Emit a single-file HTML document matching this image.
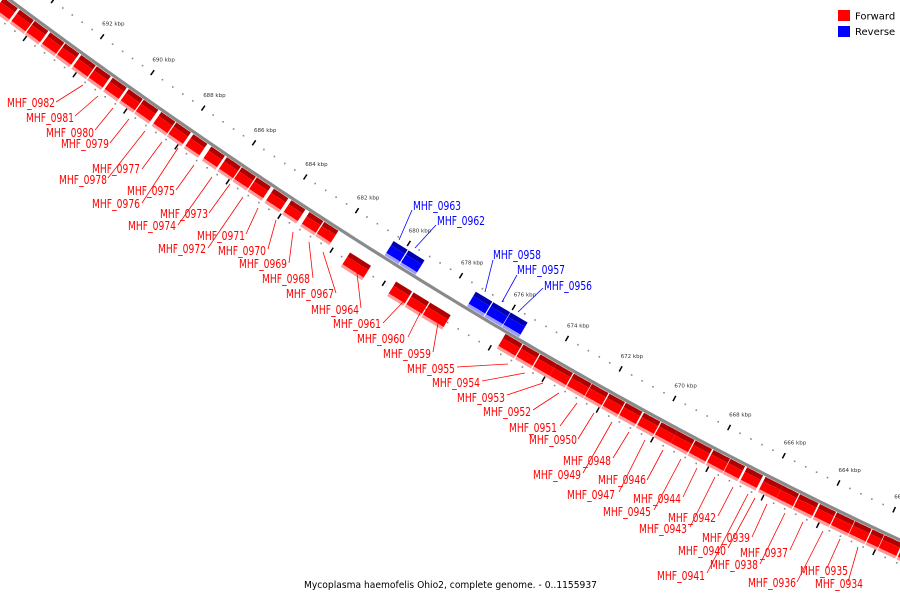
<!DOCTYPE html>
<html><head><meta charset="utf-8"><style>
html,body{margin:0;padding:0;background:#fff;width:900px;height:600px;overflow:hidden}
svg{display:block;font-family:"DejaVu Sans","Liberation Sans",sans-serif}
</style></head><body>
<svg id="chart" width="900" height="600" viewBox="0 0 900 600">
<g id="tracks"></g>
<g id="genes"></g>
<g id="labels"></g>
<g>
<rect x="838" y="10" width="12" height="11" fill="#ff0000"/>
<text x="855" y="19.5" font-size="10" fill="#000">Forward</text>
<rect x="838" y="26" width="12" height="11" fill="#0000ff"/>
<text x="855" y="35" font-size="10" fill="#000">Reverse</text>
</g>
<text x="304" y="588" font-size="10" textLength="293" lengthAdjust="spacingAndGlyphs" fill="#000">Mycoplasma haemofelis Ohio2, complete genome. - 0..1155937</text>
</svg>
<script>
// gene data (kbp)
const geneStarts = [696.5,695.9,695.32,694.68,694.08,693.44,692.84,692.2,691.6,690.96,690.32,689.72,689.04,688.44,687.77,687.08,686.46,685.88,685.29,684.63,683.96,683.27,682.69,
681.46,679.7,679.04,678.4,
680.45,679.88,677.32,676.66,676.0,
675.81,675.13,674.49,673.89,673.25,672.57,671.93,671.31,670.65,670.0,669.42,668.76,668.1,667.48,666.89,666.22,665.6,664.96,664.25,663.64,662.98,662.36,661.93,661.26];
const geneEnds = [695.95,695.4,694.76,694.12,693.52,692.88,692.28,691.64,691.04,690.4,689.76,689.16,688.48,687.88,687.23,686.54,685.92,685.33,684.75,684.08,683.42,682.73,682.15,
680.65,679.08,678.44,677.63,
679.92,679.28,676.7,676.02,675.38,
675.17,674.53,673.9,673.28,672.6,671.96,671.35,670.7,670.04,669.42,668.8,668.15,667.5,666.96,666.3,665.6,665.0,664.3,663.66,663.0,662.4,661.95,661.3,660.6];
const geneStrand = [1,1,1,1,1,1,1,1,1,1,1,1,1,1,1,1,1,1,1,1,1,1,1, 1,1,1,1, -1,-1,-1,-1,-1, 1,1,1,1,1,1,1,1,1,1,1,1,1,1,1,1,1,1,1,1,1,1,1,1];
const geneRow = [0,0,0,0,0,0,0,0,0,0,0,0,0,0,0,0,0,0,0,0,0,0,0, 1,1,1,1, 0,0,0,0,0, 0,0,0,0,0,0,0,0,0,0,0,0,0,0,0,0,0,0,0,0,0,0,0,0];
const tickKbp = [696,694,692,690,688,686,684,682,680,678,676,674,672,670,668,666,664,662,660];
const tickLabels = ["696 kbp","694 kbp","692 kbp","690 kbp","688 kbp","686 kbp","684 kbp","682 kbp","680 kbp","678 kbp","676 kbp","674 kbp","672 kbp","670 kbp","668 kbp","666 kbp","664 kbp","662 kbp","660 kbp"];
// labels: name, text x, baseline y, leader from, leader to
const labelNames = ["MHF_0982","MHF_0981","MHF_0980","MHF_0979","MHF_0977","MHF_0978","MHF_0975","MHF_0976","MHF_0973","MHF_0974","MHF_0971","MHF_0972","MHF_0970","MHF_0969","MHF_0968","MHF_0967","MHF_0964","MHF_0961","MHF_0960","MHF_0959","MHF_0963","MHF_0962","MHF_0958","MHF_0957","MHF_0956","MHF_0955","MHF_0954","MHF_0953","MHF_0952","MHF_0951","MHF_0950","MHF_0948","MHF_0949","MHF_0946","MHF_0947","MHF_0944","MHF_0945","MHF_0942","MHF_0943","MHF_0939","MHF_0940","MHF_0938","MHF_0937","MHF_0941","MHF_0936","MHF_0935","MHF_0934"];
const labelX = [7,26,46,61,92,59,127,92,160,128,197,158,218,239,262,286,311,333,357,383,413,437,493,517,544,407,432,457,483,509,529,563,533,598,567,633,603,668,639,702,678,710,740,657,748,800,815];
const labelY = [107,122,137,148,173,184,195,208,218,230,240,253,255,268,283,298,314,328,343,358,210,225,259,274,290,373,387,402,416,432,444,465,479,484,499,503,516,522,533,542,555,569,557,580,587,575,588];
const leadX1 = [56,75,95,110,142,108,176,142,209,178,246,208,268,289,313,336,361,383,408,433,412,436,493,517,543,457,482,507,533,560,578,613,583,647,619,683,654,718,690,752,728,760,790,707,797,827,848];
const leadY1 = [102,116,130,143,169,178,190,203,213,225,234,248,249,263,278,293,308,323,337,352,210,225,260,275,288,367,381,395,410,426,439,458,473,480,492,497,510,516,527,537,548,564,550,573,582,568,582];
const leadX2 = [83,98,113,129,162,145,194,178,230,212,258,243,276,293,309,323,357,403,420,438,399,415,485,502,518,508,525,543,559,577,594,629,612,663,645,697,681,733,715,767,755,785,803,748,823,840,858];
const leadY2 = [85,96,108,119,142,131,165,148,184,177,208,197,220,232,242,252,273,302,313,323,240,248,292,302,312,364,373,383,393,403,413,432,422,450,440,468,459,487,477,504,498,513,522,494,531,539,547];

const NS='http://www.w3.org/2000/svg';
function f(x){return -7.5+0.7506*x-0.000158*x*x;}
function fp(x){return 0.7506-2*0.000158*x;}
const xs=[],ss=[];let acc=0;
for(let x=-80;x<=980;x+=0.5){if(xs.length){const px=xs[xs.length-1];const dy=f(x)-f(px);acc+=Math.sqrt(0.25+dy*dy);}xs.push(x);ss.push(acc);}
function sAtX(x){const i=Math.round((x+80)*2);return ss[Math.max(0,Math.min(ss.length-1,i))];}
const S0=sAtX(88),S1=sAtX(828);
function kToS(k){return S0+(692-k)/28*(S1-S0);}
function xAtS(s){let lo=0,hi=ss.length-1;while(hi-lo>1){const m=(lo+hi)>>1;if(ss[m]<s)lo=m;else hi=m;}return xs[lo];}
function pt(k,off){const x=xAtS(kToS(k));const d=fp(x);const L=Math.sqrt(1+d*d);return [x+(-d/L)*off,f(x)+(1/L)*off];}
function mk(tag,attrs,parent){const e=document.createElementNS(NS,tag);for(const a in attrs)e.setAttribute(a,attrs[a]);parent.appendChild(e);return e;}
const tracks=document.getElementById('tracks'),genesG=document.getElementById('genes'),labelsG=document.getElementById('labels');

// backbone line
let dpath='';for(let x=-20;x<=920;x+=5){dpath+=(x===-20?'M':'L')+x+','+f(x).toFixed(2);}
const bb=mk('path',{d:dpath,fill:'none',stroke:'#8a8a8a','stroke-width':3.2},tracks);


// dots
for(let k=697.2;k>=659.6;k-=0.4){
  const kk=Math.round(k*10)/10;if(Math.abs(kk/2-Math.round(kk/2))<0.01)continue;
  [[-25],[22]].forEach(o=>{const p=pt(kk,o[0]);const c=mk('rect',{x:(p[0]-0.8).toFixed(1),y:(p[1]-0.8).toFixed(1),width:1.6,height:1.6,fill:'#888'},tracks);
  
  });
}
// ticks
tickKbp.forEach((k,i)=>{
  [[-22,-28],[19,25]].forEach(o=>{const a=pt(k,o[0]),b=pt(k,o[1]);const t=mk('line',{x1:a[0].toFixed(1),y1:a[1].toFixed(1),x2:b[0].toFixed(1),y2:b[1].toFixed(1),stroke:'#000','stroke-width':1.5},tracks);
  
  });
  const p=pt(k,-25);
  const tl=mk('text',{x:p[0].toFixed(1),y:(p[1]-11).toFixed(1),'font-size':5.5,fill:'#333'},tracks);
  tl.textContent=tickLabels[i];
  
  
});
// genes
function band(k1,k2,o1,o2,fill,parent){let d='';const n=6;
  for(let j=0;j<=n;j++){const p=pt(k1+(k2-k1)*j/n,o1);d+=(j?'L':'M')+p[0].toFixed(1)+','+p[1].toFixed(1);}
  for(let j=n;j>=0;j--){const p=pt(k1+(k2-k1)*j/n,o2);d+='L'+p[0].toFixed(1)+','+p[1].toFixed(1);}
  mk('path',{d:d+'Z',fill:fill},parent);}
geneStarts.forEach((st,i)=>{
  const en=geneEnds[i];
  const g=mk('g',{},genesG);
  
  
  if(geneStrand[i]>0){const d=2+geneRow[i]*12;
    band(st,en,d,d+5,'#b00000',g);band(st,en,d+5,d+14,'#ff0000',g);band(st,en,d+14,d+17,'#ff9a9a',g);
  }else{
    band(st,en,-19,-14,'#0000b0',g);band(st,en,-14,-5,'#0000ff',g);band(st,en,-5,-2,'#9a9aff',g);
  }
});
// labels
labelNames.forEach((nm,i)=>{
  const blue=(nm==='MHF_0963'||nm==='MHF_0962'||nm==='MHF_0958'||nm==='MHF_0957'||nm==='MHF_0956');
  const col=blue?'#0000ff':'#ff0000';
  const ln=mk('line',{x1:leadX1[i],y1:leadY1[i],x2:leadX2[i],y2:leadY2[i],stroke:col,'stroke-width':0.8},labelsG);
  
  
  const t=mk('text',{x:labelX[i],y:labelY[i],'font-size':12,fill:col,textLength:48,lengthAdjust:'spacingAndGlyphs'},labelsG);
  t.textContent=nm;
  
  
});
</script>
</body></html>
